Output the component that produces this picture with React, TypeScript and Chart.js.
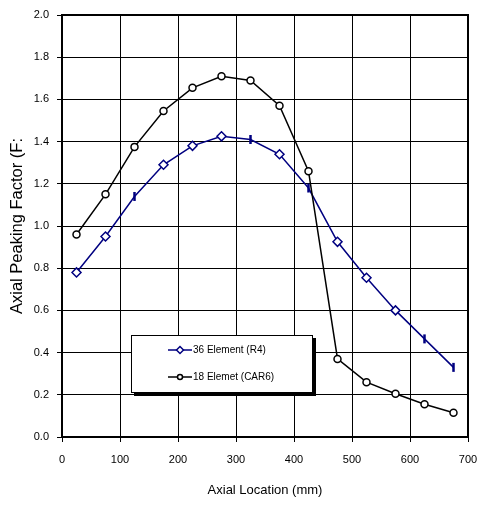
import React, { useEffect, useRef } from "react";
import { Chart, registerables } from "chart.js";

Chart.register(...registerables);

const xLocations = [25, 75, 125, 175, 225, 275, 325, 375, 425, 475, 525, 575, 625, 675];
const element36 = [0.78, 0.95, 1.14, 1.29, 1.38, 1.425, 1.41, 1.34, 1.18, 0.925, 0.755, 0.6, 0.465, 0.33];
const element18 = [0.96, 1.15, 1.375, 1.545, 1.655, 1.71, 1.69, 1.57, 1.26, 0.37, 0.26, 0.205, 0.155, 0.115];
const element36Styles = ["rectRot", "rectRot", "line", "rectRot", "rectRot", "rectRot", "line", "rectRot", "line", "rectRot", "rectRot", "rectRot", "line", "line"];
const seriesLabels = ["36 Element (R4)", "18 Elemet (CAR6)"];
const xTitle = "Axial Location (mm)";
const yTitle = "Axial Peaking Factor (F:";

const FONT = "'Liberation Sans', Arial, sans-serif";
const BLUE = "#000080";

const framePlugin = {
  id: "frame",
  beforeDatasetsDraw(chart: any) {
    const ctx = chart.ctx;
    const a = chart.chartArea;
    ctx.save();
    ctx.strokeStyle = "#000";
    ctx.lineWidth = 2;
    ctx.strokeRect(a.left, a.top, a.right - a.left, a.bottom - a.top);
    ctx.restore();
  },
};

const legendPlugin = {
  id: "boxLegend",
  afterDatasetsDraw(chart: any) {
    const ctx = chart.ctx;
    const a = chart.chartArea;
    const x0 = a.left + 69;
    const y0 = a.top + 320;
    const w = 182;
    const h = 58;
    ctx.save();
    ctx.fillStyle = "#000";
    ctx.fillRect(x0 + 3, y0 + 3, w, h);
    ctx.fillStyle = "#fff";
    ctx.fillRect(x0, y0, w, h);
    ctx.strokeStyle = "#000";
    ctx.lineWidth = 1;
    ctx.strokeRect(x0 + 0.5, y0 + 0.5, w - 1, h - 1);
    const items = [
      { label: seriesLabels[0], color: BLUE, style: "rectRot", y: y0 + 15 },
      { label: seriesLabels[1], color: "#000", style: "circle", y: y0 + 42 },
    ];
    items.forEach((it) => {
      ctx.strokeStyle = it.color;
      ctx.lineWidth = 1.5;
      ctx.beginPath();
      ctx.moveTo(x0 + 37, it.y);
      ctx.lineTo(x0 + 61, it.y);
      ctx.stroke();
      ctx.fillStyle = "#fff";
      ctx.beginPath();
      if (it.style === "circle") {
        ctx.arc(x0 + 49, it.y, 2.5, 0, Math.PI * 2);
      } else {
        ctx.moveTo(x0 + 49, it.y - 3.5);
        ctx.lineTo(x0 + 52.5, it.y);
        ctx.lineTo(x0 + 49, it.y + 3.5);
        ctx.lineTo(x0 + 45.5, it.y);
        ctx.closePath();
      }
      ctx.fill();
      ctx.stroke();
      ctx.fillStyle = "#000";
      ctx.font = `10px ${FONT}`;
      ctx.textBaseline = "middle";
      ctx.textAlign = "left";
      ctx.fillText(it.label, x0 + 62, it.y);
    });
    ctx.restore();
  },
};

export default function App() {
  const ref = useRef<HTMLCanvasElement>(null);
  useEffect(() => {
    if (!ref.current) return;
    const chart = new Chart(ref.current, {
      type: "line",
      data: {
        datasets: [
          {
            label: seriesLabels[1],
            data: xLocations.map((x, i) => ({ x, y: element18[i] })),
            borderColor: "#000",
            backgroundColor: "#fff",
            borderWidth: 1.5,
            pointStyle: "circle",
            pointRadius: 3.5,
            pointBorderWidth: 1.5,
            pointBackgroundColor: "#fff",
            pointBorderColor: "#000",
            tension: 0,
          },
          {
            label: seriesLabels[0],
            data: xLocations.map((x, i) => ({ x, y: element36[i] })),
            borderColor: BLUE,
            backgroundColor: "#fff",
            borderWidth: 1.5,
            pointStyle: element36Styles as any,
            rotation: element36Styles.map((s) => (s === "line" ? 90 : 0)) as any,
            pointRadius: element36Styles.map((s) => (s === "line" ? 4.5 : 4.5)) as any,
            pointBorderWidth: element36Styles.map((s) => (s === "line" ? 2.5 : 1.5)) as any,
            pointBackgroundColor: "#fff",
            pointBorderColor: BLUE,
            tension: 0,
          },
        ],
      },
      options: {
        animation: false,
        responsive: false,
        layout: { padding: { left: 8, right: 12, top: 15, bottom: 0 } },
        plugins: {
          legend: { display: false },
          tooltip: { enabled: false },
        },
        scales: {
          x: {
            type: "linear",
            min: 0,
            max: 700,
            ticks: {
              stepSize: 100,
              color: "#000",
              font: { family: FONT, size: 11 },
              padding: 11,
              maxRotation: 0,
            },
            grid: { color: "#000", lineWidth: 1, tickLength: 5, drawTicks: true },
            border: { color: "#000", width: 2 },
            title: {
              display: true,
              text: xTitle,
              color: "#000",
              font: { family: FONT, size: 13 },
              padding: { top: 10, bottom: 7 },
            },
            afterFit(scale: any) {
              scale.height = 68;
              scale.paddingLeft = 0;
              scale.paddingRight = 0;
            },
          },
          y: {
            min: 0,
            max: 2,
            ticks: {
              stepSize: 0.2,
              color: "#000",
              font: { family: FONT, size: 11 },
              padding: 8,
              callback: (v: any) => Number(v).toFixed(1),
            },
            grid: { color: "#000", lineWidth: 1, tickLength: 5, drawTicks: true },
            border: { color: "#000", width: 2 },
            title: {
              display: true,
              text: yTitle,
              color: "#000",
              font: { family: FONT, size: 16.5 },
              padding: { top: 0, bottom: 4 },
            },
            afterFit(scale: any) {
              scale.width = 54;
              scale.paddingTop = 0;
              scale.paddingBottom = 0;
            },
          },
        },
      },
      plugins: [framePlugin, legendPlugin],
    });
    return () => chart.destroy();
  }, []);
  return (
    <div style={{ position: "fixed", left: 0, top: 0, width: 480, height: 505, background: "#fff" }}>
      <canvas ref={ref} width={480} height={505} />
    </div>
  );
}
